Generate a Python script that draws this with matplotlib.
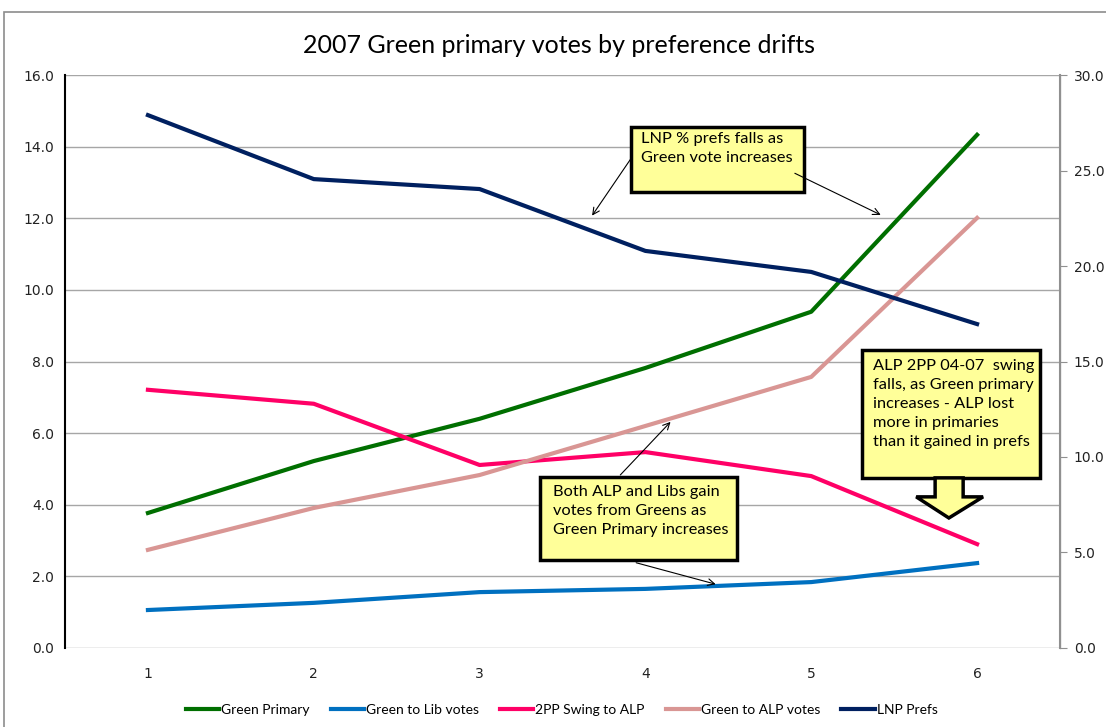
import matplotlib
matplotlib.use("Agg")
import matplotlib.pyplot as plt
from matplotlib.patches import Rectangle, Polygon

# values (left axis, except LNP prefs on the right axis)
points = [1, 2, 3, 4, 5, 6]
green_primary = [3.77, 5.22, 6.40, 7.82, 9.39, 14.33]
green_to_lib = [1.06, 1.26, 1.56, 1.65, 1.84, 2.37]
swing_2pp = [7.21, 6.82, 5.11, 5.47, 4.80, 2.90]
green_to_alp = [2.74, 3.91, 4.83, 6.20, 7.57, 12.01]
lnp_prefs = [27.9, 24.55, 24.03, 20.79, 19.69, 16.96]

left_ticks = [0, 2, 4, 6, 8, 10, 12, 14, 16]
right_ticks = [0, 5, 10, 15, 20, 25, 30]

narrow = ["Lato", "DejaVu Sans"]

fig = plt.figure(figsize=(11.06, 7.27), dpi=100)
ax = fig.add_axes([0.0588, 0.1087, 0.8996, 0.7881])
ax2 = ax.twinx()

l1, = ax.plot(points, green_primary, color="#006F00", lw=3, label="Green Primary")
l2, = ax.plot(points, green_to_lib, color="#0070C0", lw=3, label="Green to Lib votes")
l3, = ax.plot(points, swing_2pp, color="#FF0066", lw=3, label="2PP Swing to ALP")
l4, = ax.plot(points, green_to_alp, color="#D99694", lw=3, label="Green to ALP votes")
l5, = ax2.plot(points, lnp_prefs, color="#002060", lw=3, label="LNP Prefs")

ax.set_xlim(0.5, 6.5)
ax.set_ylim(0, 16)
ax2.set_ylim(0, 30)
ax.set_xticks(points)
ax.set_xticklabels([str(p) for p in points], fontsize=10)
ax.set_yticks(left_ticks)
ax.set_yticklabels(["%.1f" % v for v in left_ticks], fontsize=10)
ax2.set_yticks(right_ticks)
ax2.set_yticklabels(["%.1f" % v for v in right_ticks], fontsize=10)
ax.tick_params(axis="x", length=0, pad=14, labelcolor="#222222")
ax.tick_params(axis="y", length=0, pad=8, labelcolor="#222222")
ax2.tick_params(axis="y", length=5, color="#909090", pad=5, labelcolor="#222222")
ax.grid(axis="y", color="#A6A6A6", lw=1)
ax.set_axisbelow(True)

for a in (ax, ax2):
    a.spines["top"].set_visible(False)
    a.spines["bottom"].set_visible(False)
ax2.spines["left"].set_visible(False)
ax.spines["left"].set_color("black")
ax.spines["left"].set_linewidth(1.5)
ax2.spines["right"].set_color("#909090")
ax2.spines["right"].set_linewidth(1.5)

fig.text(0.505, 0.938, "2007 Green primary votes by preference drifts",
         ha="center", va="center", fontsize=18, family=narrow)

# outer chart border
fig.patches.append(Rectangle((0.0036, -0.05), 1.2, 1.05 - 12 / 727, transform=fig.transFigure,
                             fill=False, edgecolor="#8C8C8C", lw=1.2))

box_kw = dict(facecolor="#FFFF99", edgecolor="black", lw=2.5, zorder=10,
              transform=ax.transData, clip_on=False)
txt_kw = dict(fontsize=11.8, family=narrow, ha="left", va="top", zorder=11,
              transform=ax.transData, linespacing=1.45)
arr = dict(arrowstyle="->", color="black", lw=0.8, mutation_scale=12)

# box 1
ax2.add_patch(Rectangle((3.916, 12.73), 1.042, 1.82, **box_kw))
ax2.text(3.976, 14.40, "LNP % prefs falls as\nGreen vote increases", **txt_kw)
ax2.annotate("", xy=(3.669, 12.01), xytext=(3.928, 13.77), xycoords=ax.transData,
             textcoords=ax.transData, arrowprops=arr, zorder=12)
ax2.annotate("", xy=(5.434, 12.06), xytext=(4.886, 13.29), xycoords=ax.transData,
             textcoords=ax.transData, arrowprops=arr, zorder=12)

# box 2 with block arrow
ax2.add_patch(Rectangle((5.307, 4.75), 1.073, 3.57, **box_kw))
ax2.text(5.373, 8.06, "ALP 2PP 04-07  swing\nfalls, as Green primary\nincreases - ALP lost\n"
         "more in primaries\nthan it gained in prefs", **txt_kw)
ax2.add_patch(Polygon([(5.747, 4.75), (5.916, 4.75), (5.916, 4.22), (6.036, 4.22),
                       (5.83, 3.63), (5.633, 4.22), (5.747, 4.22)], closed=True,
                      facecolor="#FFFF99", edgecolor="black", lw=2.5, zorder=10,
                      transform=ax.transData))

# box 3
ax2.add_patch(Rectangle((3.367, 2.457), 1.187, 2.318, **box_kw))
ax2.text(3.44, 4.55, "Both ALP and Libs gain\nvotes from Greens as\nGreen Primary increases", **txt_kw)
ax2.annotate("", xy=(4.163, 6.37), xytext=(3.837, 4.775), xycoords=ax.transData,
             textcoords=ax.transData, arrowprops=arr, zorder=12)
ax2.annotate("", xy=(4.44, 1.76), xytext=(3.928, 2.40), xycoords=ax.transData,
             textcoords=ax.transData, arrowprops=arr, zorder=12)

fig.legend(handles=[l1, l2, l3, l4, l5], loc="center", bbox_to_anchor=(0.508, 0.023),
           ncol=5, frameon=False, prop={"family": narrow, "size": 10},
           handlelength=2.4, handletextpad=0.15, columnspacing=1.5)

fig.savefig("out.png", dpi=100)
